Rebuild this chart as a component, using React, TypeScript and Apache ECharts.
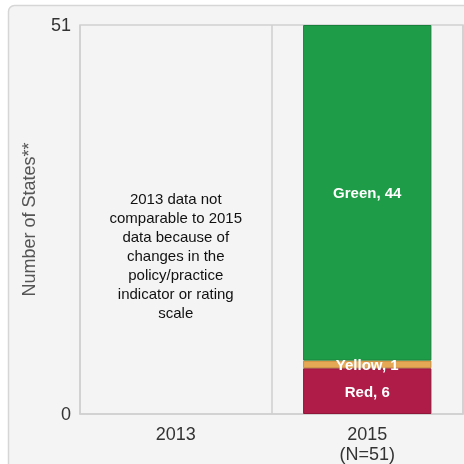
import React, { useEffect, useRef } from "react";
import * as echarts from "echarts";

const categories = ["2013", "2015"];
const categoryLabels = ["2013", "2015\n(N=51)"];
const redValues = [null, 6];
const yellowValues = [null, 1];
const greenValues = [null, 44];
const seriesNames = ["Red", "Yellow", "Green"];
const yMax = 51;
const note2013 =
  "2013 data not\ncomparable to 2015\ndata because of\nchanges in the\npolicy/practice\nindicator or rating\nscale";

const FONT = "'Liberation Sans', Arial, Helvetica, sans-serif";

const cardRect = {
  type: "rect",
  silent: true,
  z: -10,
  shape: { x: 8.5, y: 5.5, width: 600, height: 600, r: 6 },
  style: { fill: "#f4f4f4", stroke: "#d6d6d6", lineWidth: 1.5 },
};

export default function App() {
  const ref = useRef<HTMLDivElement>(null);

  useEffect(() => {
    if (!ref.current) return;
    const chart = echarts.init(ref.current, undefined, { renderer: "svg" });

    const makeSeries = (
      name: string,
      data: (number | null)[],
      fill: string,
      stroke: string
    ) => ({
      name,
      type: "bar",
      stack: "total",
      barWidth: "67%",
      data,
      itemStyle: { color: fill, borderColor: stroke, borderWidth: 1 },
      label: {
        show: true,
        position: "inside",
        formatter: (p: any) => `${p.seriesName}, ${p.value}`,
        color: "#ffffff",
        fontFamily: FONT,
        fontWeight: "bold",
        fontSize: 15,
      },
    });

    chart.setOption({
      animation: false,
      backgroundColor: "transparent",
      graphic: [cardRect],
      grid: {
        left: 80,
        right: 1,
        top: 25,
        bottom: 49,
        show: true,
        backgroundColor: "transparent",
        borderColor: "#cfcfcf",
        borderWidth: 1.5,
      },
      xAxis: {
        type: "category",
        data: categories,
        axisLine: { show: true, lineStyle: { color: "#cfcfcf", width: 1.5 } },
        axisTick: { show: false },
        splitLine: { show: true, lineStyle: { color: "#cfcfcf", width: 1.5 } },
        axisLabel: {
          color: "#333333",
          fontFamily: FONT,
          fontSize: 18,
          lineHeight: 20,
          margin: 10,
          formatter: (_v: string, i: number) => categoryLabels[i],
        },
      },
      yAxis: {
        type: "value",
        min: 0,
        max: yMax,
        interval: yMax,
        name: "Number of States**",
        nameLocation: "middle",
        nameRotate: 90,
        nameGap: 42,
        nameTextStyle: { color: "#555555", fontFamily: FONT, fontSize: 18 },
        axisLine: { show: false },
        axisTick: { show: false },
        splitLine: { show: false },
        axisLabel: {
          color: "#333333",
          fontFamily: FONT,
          fontSize: 18,
          margin: 9,
        },
      },
      series: [
        makeSeries(seriesNames[0], redValues, "#b01c48", "#8f1539"),
        makeSeries(seriesNames[1], yellowValues, "#e5a855", "#c98c3c"),
        makeSeries(seriesNames[2], greenValues, "#1f9c47", "#17803a"),
      ],
    });

    // Place the 2013 note in the middle of its empty category column
    const [cx, cy] = chart.convertToPixel({ xAxisIndex: 0, yAxisIndex: 0 }, [
      categories[0],
      yMax / 2,
    ]) as number[];
    chart.setOption({
      graphic: [
        cardRect,
        {
          type: "text",
          x: cx,
          y: cy + 36,
          style: {
            text: note2013,
            align: "center",
            verticalAlign: "middle",
            fill: "#111111",
            fontFamily: FONT,
            fontSize: 15,
            lineHeight: 19,
          },
        },
      ],
    });

    return () => chart.dispose();
  }, []);

  return (
    <div
      ref={ref}
      style={{ position: "fixed", left: 0, top: 0, width: 464, height: 464 }}
    />
  );
}
